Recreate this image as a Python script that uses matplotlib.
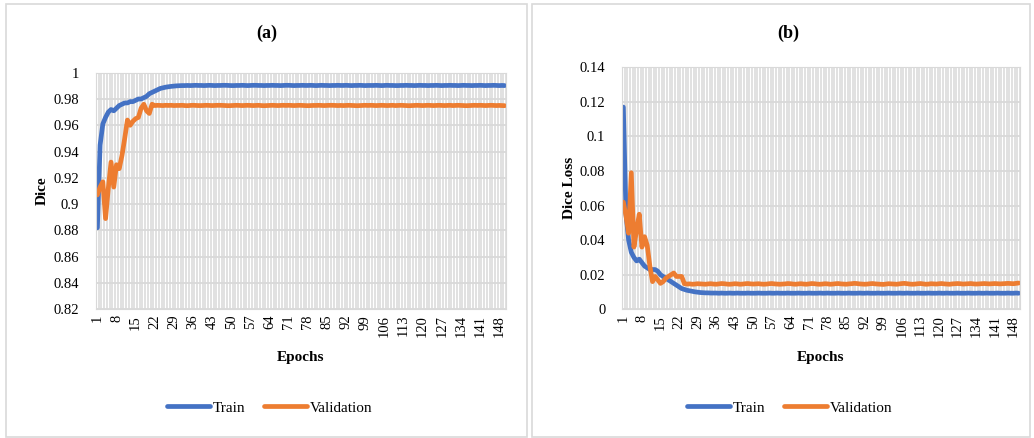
import matplotlib
matplotlib.use("Agg")
import matplotlib.pyplot as plt
from matplotlib.patches import Rectangle
import numpy as np

plt.rcParams['font.family'] = ['Liberation Serif', 'DejaVu Serif']

epochs = list(range(1, 151))

train_dice = [
    0.882, 0.945, 0.961, 0.966, 0.970, 0.972, 0.971, 0.973, 0.975, 0.976,
    0.977, 0.977, 0.978, 0.978, 0.979, 0.980, 0.980, 0.981, 0.982, 0.984,
    0.985, 0.986, 0.987, 0.988, 0.9885, 0.989, 0.9893, 0.9896, 0.9898, 0.9900,
    0.9901, 0.9902, 0.9902, 0.9903, 0.9902, 0.9903, 0.9904, 0.9903, 0.9903, 0.9902,
    0.9903, 0.9904, 0.9903, 0.9902, 0.9903, 0.9903, 0.9904, 0.9904, 0.9903, 0.9902,
    0.9902, 0.9903, 0.9903, 0.9904, 0.9903, 0.9902, 0.9903, 0.9904, 0.9904, 0.9903,
    0.9903, 0.9902, 0.9903, 0.9903, 0.9904, 0.9903, 0.9903, 0.9902, 0.9903, 0.9904,
    0.9904, 0.9903, 0.9902, 0.9903, 0.9903, 0.9904, 0.9903, 0.9903, 0.9904, 0.9903,
    0.9902, 0.9903, 0.9904, 0.9903, 0.9903, 0.9902, 0.9903, 0.9903, 0.9904, 0.9903,
    0.9903, 0.9904, 0.9903, 0.9902, 0.9903, 0.9903, 0.9904, 0.9903, 0.9902, 0.9903,
    0.9903, 0.9903, 0.9904, 0.9903, 0.9902, 0.9903, 0.9904, 0.9903, 0.9903, 0.9902,
    0.9902, 0.9903, 0.9903, 0.9904, 0.9903, 0.9903, 0.9902, 0.9903, 0.9904, 0.9903,
    0.9903, 0.9902, 0.9903, 0.9903, 0.9904, 0.9903, 0.9902, 0.9903, 0.9903, 0.9904,
    0.9903, 0.9903, 0.9902, 0.9903, 0.9904, 0.9903, 0.9903, 0.9902, 0.9903, 0.9903,
    0.9904, 0.9903, 0.9902, 0.9903, 0.9903, 0.9904, 0.9903, 0.9902, 0.9903, 0.9902,
]

val_dice = [
    0.907, 0.913, 0.917, 0.889, 0.912, 0.932, 0.913, 0.930, 0.927, 0.937,
    0.950, 0.964, 0.960, 0.963, 0.965, 0.966, 0.973, 0.976, 0.971, 0.969,
    0.976, 0.975, 0.9752, 0.9751, 0.9750, 0.9752, 0.9751, 0.9752, 0.9750, 0.9751,
    0.9751, 0.9752, 0.9750, 0.9749, 0.9751, 0.9752, 0.9751, 0.9750, 0.9750, 0.9751,
    0.9752, 0.9751, 0.9750, 0.9751, 0.9752, 0.9752, 0.9751, 0.9750, 0.9749, 0.9750,
    0.9751, 0.9752, 0.9751, 0.9750, 0.9751, 0.9752, 0.9751, 0.9750, 0.9751, 0.9752,
    0.9750, 0.9749, 0.9750, 0.9751, 0.9752, 0.9751, 0.9750, 0.9751, 0.9752, 0.9751,
    0.9752, 0.9751, 0.9750, 0.9751, 0.9752, 0.9751, 0.9750, 0.9749, 0.9750, 0.9751,
    0.9751, 0.9752, 0.9751, 0.9750, 0.9751, 0.9752, 0.9752, 0.9751, 0.9750, 0.9751,
    0.9750, 0.9751, 0.9752, 0.9751, 0.9750, 0.9749, 0.9750, 0.9751, 0.9752, 0.9751,
    0.9752, 0.9751, 0.9750, 0.9751, 0.9752, 0.9751, 0.9750, 0.9751, 0.9752, 0.9750,
    0.9751, 0.9752, 0.9751, 0.9750, 0.9749, 0.9750, 0.9751, 0.9752, 0.9751, 0.9750,
    0.9751, 0.9752, 0.9751, 0.9750, 0.9751, 0.9752, 0.9751, 0.9750, 0.9751, 0.9752,
    0.9750, 0.9751, 0.9752, 0.9751, 0.9750, 0.9749, 0.9750, 0.9751, 0.9752, 0.9751,
    0.9752, 0.9751, 0.9750, 0.9751, 0.9752, 0.9751, 0.9750, 0.9751, 0.9750, 0.9749,
]

train_loss = [
    0.117, 0.055, 0.040, 0.033, 0.030, 0.028, 0.029, 0.027, 0.025, 0.024,
    0.023, 0.023, 0.023, 0.022, 0.020, 0.019, 0.018, 0.017, 0.016, 0.015,
    0.014, 0.013, 0.012, 0.0115, 0.011, 0.0107, 0.0104, 0.0101, 0.0099, 0.0097,
    0.0096, 0.0095, 0.0095, 0.0094, 0.0094, 0.0094, 0.0093, 0.0094, 0.0093, 0.0093,
    0.0094, 0.0093, 0.0093, 0.0094, 0.0093, 0.0093, 0.0093, 0.0094, 0.0093, 0.0093,
    0.0093, 0.0094, 0.0093, 0.0093, 0.0093, 0.0094, 0.0093, 0.0093, 0.0094, 0.0093,
    0.0093, 0.0093, 0.0094, 0.0093, 0.0093, 0.0093, 0.0094, 0.0093, 0.0093, 0.0093,
    0.0094, 0.0093, 0.0093, 0.0093, 0.0094, 0.0093, 0.0093, 0.0094, 0.0093, 0.0093,
    0.0093, 0.0094, 0.0093, 0.0093, 0.0093, 0.0094, 0.0093, 0.0093, 0.0093, 0.0094,
    0.0093, 0.0093, 0.0094, 0.0093, 0.0093, 0.0093, 0.0094, 0.0093, 0.0093, 0.0093,
    0.0094, 0.0093, 0.0093, 0.0093, 0.0094, 0.0093, 0.0093, 0.0094, 0.0093, 0.0093,
    0.0093, 0.0094, 0.0093, 0.0093, 0.0093, 0.0094, 0.0093, 0.0093, 0.0093, 0.0094,
    0.0093, 0.0093, 0.0094, 0.0093, 0.0093, 0.0093, 0.0094, 0.0093, 0.0093, 0.0093,
    0.0094, 0.0093, 0.0093, 0.0093, 0.0094, 0.0093, 0.0093, 0.0094, 0.0093, 0.0093,
    0.0093, 0.0094, 0.0093, 0.0093, 0.0093, 0.0094, 0.0093, 0.0093, 0.0094, 0.0093,
]

val_loss = [
    0.062, 0.054, 0.044, 0.079, 0.036, 0.046, 0.055, 0.036, 0.042, 0.037,
    0.025, 0.016, 0.019, 0.017, 0.015, 0.016, 0.018, 0.019, 0.020, 0.021,
    0.019, 0.019, 0.019, 0.0148, 0.0146, 0.0147, 0.0145, 0.0146, 0.0148, 0.0147,
    0.0146, 0.0145, 0.0147, 0.0148, 0.0146, 0.0145, 0.0147, 0.0149, 0.0148, 0.0146,
    0.0145, 0.0146, 0.0148, 0.0147, 0.0145, 0.0146, 0.0148, 0.0149, 0.0147, 0.0146,
    0.0147, 0.0148, 0.0146, 0.0145, 0.0146, 0.0148, 0.0149, 0.0147, 0.0146, 0.0145,
    0.0146, 0.0147, 0.0149, 0.0148, 0.0146, 0.0145, 0.0147, 0.0148, 0.0146, 0.0145,
    0.0147, 0.0149, 0.0148, 0.0146, 0.0145, 0.0146, 0.0148, 0.0147, 0.0145, 0.0146,
    0.0148, 0.0149, 0.0147, 0.0146, 0.0145, 0.0147, 0.0148, 0.0150, 0.0149, 0.0147,
    0.0146, 0.0145, 0.0146, 0.0148, 0.0149, 0.0147, 0.0146, 0.0145, 0.0144, 0.0146,
    0.0148, 0.0147, 0.0146, 0.0145, 0.0147, 0.0149, 0.0150, 0.0148, 0.0146, 0.0145,
    0.0146, 0.0148, 0.0149, 0.0147, 0.0145, 0.0146, 0.0148, 0.0147, 0.0146, 0.0148,
    0.0149, 0.0147, 0.0146, 0.0145, 0.0147, 0.0148, 0.0149, 0.0148, 0.0146, 0.0147,
    0.0148, 0.0149, 0.0147, 0.0146, 0.0147, 0.0148, 0.0149, 0.0148, 0.0147, 0.0148,
    0.0149, 0.0148, 0.0147, 0.0148, 0.0149, 0.0150, 0.0149, 0.0148, 0.0150, 0.0152,
]

xtick_labels = list(range(1, 149, 7))
dice_ticks = [0.82, 0.84, 0.86, 0.88, 0.9, 0.92, 0.94, 0.96, 0.98, 1]
loss_ticks = [0, 0.02, 0.04, 0.06, 0.08, 0.1, 0.12, 0.14]

BLUE = "#4472C4"
ORANGE = "#ED7D31"
GRID = "#d9d9d9"
W, H = 1034, 438

fig = plt.figure(figsize=(W / 100, H / 100), dpi=100)

# panel frames
for x0, x1 in [(6, 527), (532, 1030)]:
    fig.patches.append(Rectangle((x0 / W, 1 - 437 / H), (x1 - x0) / W, 433 / H,
                                 transform=fig.transFigure, fill=False,
                                 edgecolor=GRID, linewidth=1.2))


def make_panel(rect, y1, y2, yticks, ylabel, title, title_x, leg_x):
    left, top, right, bottom = rect
    ax = fig.add_axes([left / W, 1 - bottom / H, (right - left) / W, (bottom - top) / H])
    ax.plot(epochs, y1, color=BLUE, linewidth=3.4, label="Train",
            solid_joinstyle="round", solid_capstyle="round")
    ax.plot(epochs, y2, color=ORANGE, linewidth=3.4, label="Validation",
            solid_joinstyle="round", solid_capstyle="round")
    ax.set_xlim(0.5, 150.5)
    ax.set_ylim(yticks[0], yticks[-1])
    ax.set_yticks(yticks)
    ax.set_yticklabels([f"{v:g}" for v in yticks], fontsize=10.5)
    ax.set_xticks(xtick_labels)
    ax.set_xticklabels([str(v) for v in xtick_labels], rotation=90, fontsize=10.5)
    ax.set_xticks(np.arange(0.5, 151, 1), minor=True)
    ax.tick_params(which="both", length=0)
    ax.tick_params(axis="y", pad=12)
    ax.tick_params(axis="x", pad=4)
    ax.grid(axis="x", which="minor", color=GRID, linewidth=1.1)
    ax.grid(axis="y", which="major", color=GRID, linewidth=1.3)
    ax.set_axisbelow(True)
    for s in ax.spines.values():
        s.set_color(GRID)
    ax.set_ylabel(ylabel, fontsize=11, fontweight="bold", va="center")
    ax.yaxis.set_label_coords(-0.132, 0.5)
    ax.set_xlabel("Epochs", fontsize=11, fontweight="bold", va="center")
    ax.xaxis.set_label_coords(0.5, (bottom - 358) / (bottom - top))
    fig.text(title_x / W, 1 - 33 / H, title, ha="center", va="center",
             fontsize=13, fontweight="bold")
    leg = fig.legend(*ax.get_legend_handles_labels(), loc="center",
                     bbox_to_anchor=(leg_x / W, 1 - 408 / H), ncol=2, frameon=False,
                     fontsize=11, handlelength=2.8, handletextpad=0.2, columnspacing=1.2)
    for line in leg.get_lines():
        line.set_linewidth(3.4)
        line.set_solid_capstyle("round")
    return ax


ax1 = make_panel((96, 72.7, 506, 309.3), train_dice, val_dice, dice_ticks, "Dice", "(a)", 267, 270)
ax2 = make_panel((622, 67.3, 1020, 309.3), train_loss, val_loss, loss_ticks, "Dice Loss", "(b)", 788, 790)

plt.savefig("out.png", dpi=100)
